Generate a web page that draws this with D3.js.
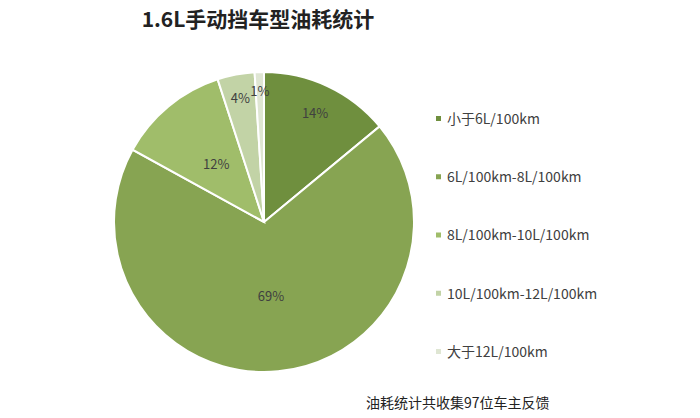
<!DOCTYPE html>
<html><head><meta charset="utf-8">
<script src="https://cdn.jsdelivr.net/npm/d3@7"></script>
<style>body{margin:0;background:#fff;font-family:"Noto Sans CJK SC",sans-serif;}</style>
</head><body><div id="viz"></div>
<script>
const categories = ["小于6L/100km", "6L/100km-8L/100km", "8L/100km-10L/100km", "10L/100km-12L/100km", "大于12L/100km"];
const values = [14, 69, 12, 4, 1];
const colors = ["#6f8f3e", "#87a452", "#a0bd6a", "#c2d3a6", "#dfe6d3"];

const width = 700, height = 418;
const cx = 264, cy = 222, r = 150;
// label distance from centre as a fraction of the radius, per slice
const labelPos = [0.8, 0.5, 0.5, 0.84, 0.87];

const svg = d3.create("svg").attr("width", width).attr("height", height);

svg.append("text").attr("x", 258).attr("y", 27).attr("text-anchor", "middle")
  .attr("font-size", 21).attr("font-weight", "bold").attr("fill", "#222")
  .text("1.6L手动挡车型油耗统计");

const pie = d3.pie().sort(null).value(d => d);
const arc = d3.arc().innerRadius(0).outerRadius(r);

const g = svg.append("g").attr("transform", `translate(${cx},${cy})`);
const arcs = pie(values);
g.selectAll("path").data(arcs).join("path")
  .attr("d", arc).attr("fill", (d, i) => colors[i])
  .attr("stroke", "#fff").attr("stroke-width", 2);

g.selectAll("text").data(arcs).join("text")
  .attr("transform", (d, i) => {
    const lr = r * labelPos[i];
    const c = d3.arc().innerRadius(lr).outerRadius(lr).centroid(d);
    return `translate(${c})`;
  })
  .attr("text-anchor", "middle").attr("dy", "0.35em")
  .attr("font-size", 13).attr("fill", "#404040")
  .text(d => d.data + "%");

const y = d3.scalePoint().domain(categories).range([119, 352]);
const leg = svg.append("g").selectAll("g").data(categories).join("g")
  .attr("transform", d => `translate(436,${y(d)})`);
leg.append("rect").attr("x", 0).attr("y", -3).attr("width", 5).attr("height", 5)
  .attr("fill", (d, i) => colors[i]);
leg.append("text").attr("x", 11).attr("dy", "0.35em").attr("font-size", 14)
  .attr("fill", "#404040").text(d => d);

svg.append("text").attr("x", 366).attr("y", 408).attr("font-size", 14)
  .attr("fill", "#222").text("油耗统计共收集97位车主反馈");

d3.select("#viz").append(() => svg.node());
</script></body></html>
